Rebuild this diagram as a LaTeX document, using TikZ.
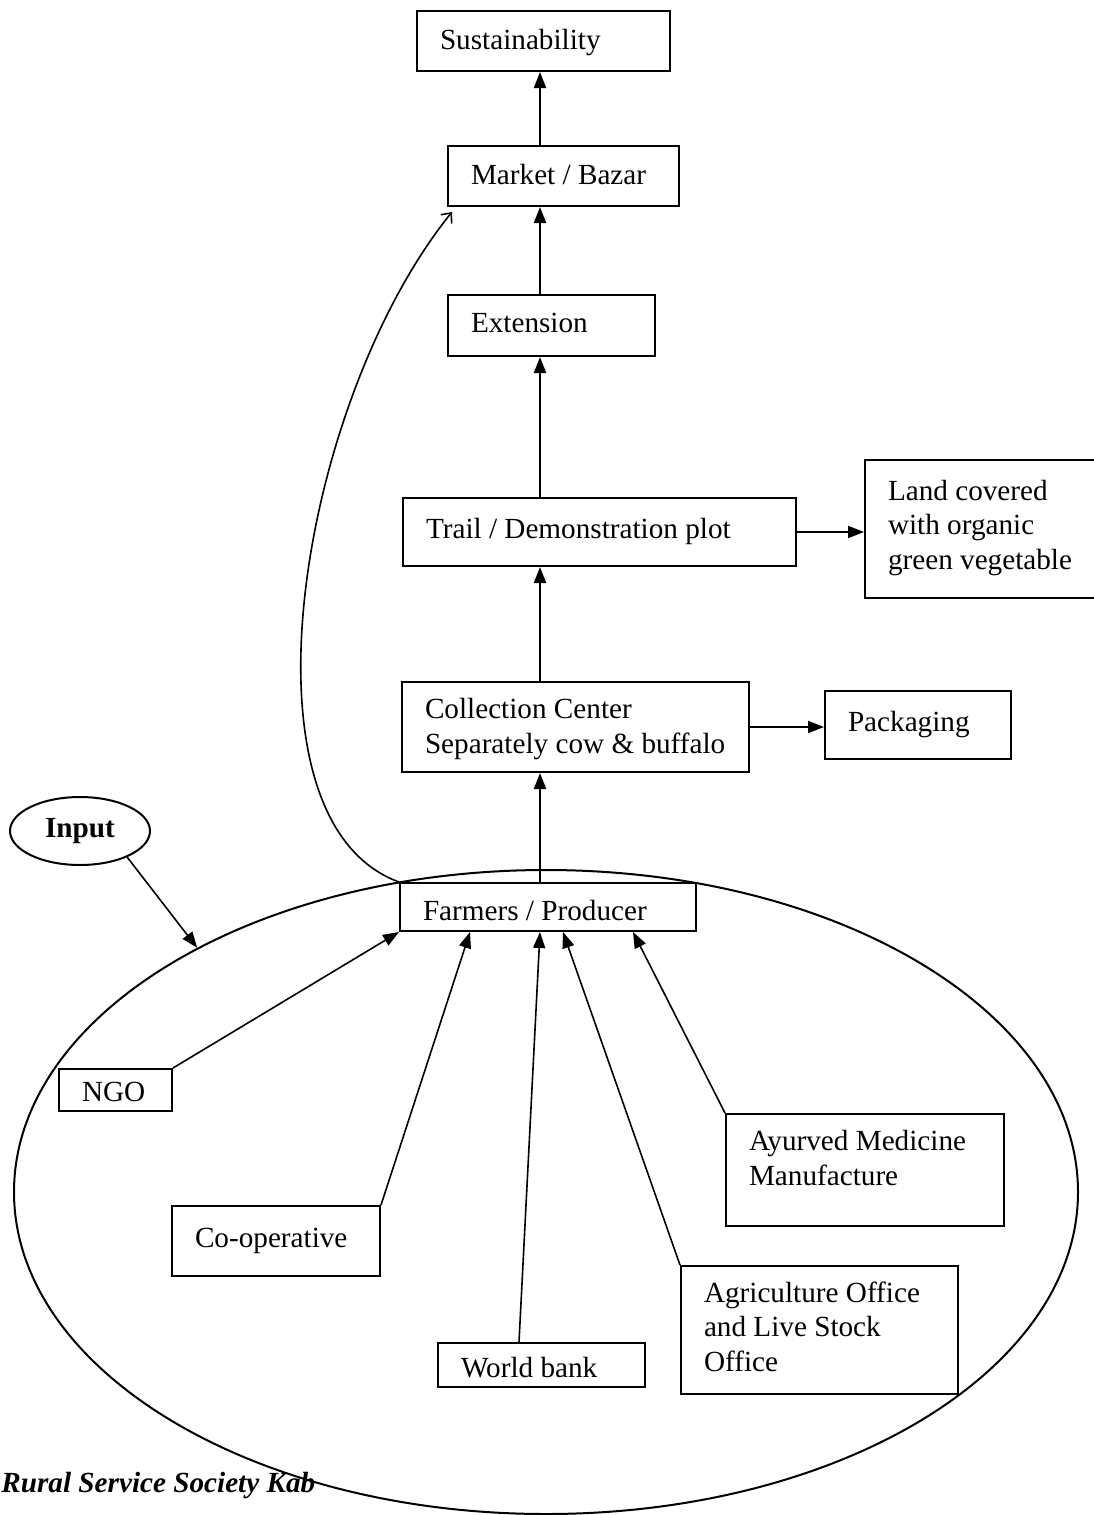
\documentclass[tikz,border=0pt]{standalone}
\usepackage{fontspec}
\setmainfont{Liberation Serif}
\usetikzlibrary{shapes.geometric,arrows.meta,calc}
\newcommand{\bt}[3][0pt]{\makebox[#2][l]{\hspace{11.5pt}\raisebox{#1}[\height][\depth]{\begin{tabular}{@{}l@{}}#3\end{tabular}}}}
\begin{document}
\begin{tikzpicture}[x=0.5pt,y=-0.5pt,
  every node/.style={font=\fontsize{14.6}{17.3}\selectfont},
  bx/.style={draw, fill=white, line width=1pt, rectangle, inner sep=0pt, anchor=north west},
  mainarrow/.style={line width=1pt, -{Triangle[length=8pt,width=6pt]}},
  thinarrow/.style={line width=0.8pt, -{Triangle[length=8pt,width=6pt]}},
  openarrow/.style={line width=0.8pt, -{Straight Barb[length=4pt,width=7pt]}}
]
\useasboundingbox (0,0) rectangle (1093,1515);

% footer text (partly covered by the ellipse)
\node[anchor=base west, inner sep=0pt, font=\fontsize{14.6}{17.3}\selectfont\bfseries\itshape] (rss) at (1,1492) {Rural Service Society Kab};

% big ellipse
\node[draw, ellipse, line width=1pt, inner sep=0pt, minimum width=532pt, minimum height=322pt] (big) at (546,1192) {};

% input ellipse
\node[draw, ellipse, line width=1pt, inner sep=0pt, minimum width=70pt, minimum height=34pt, font=\fontsize{14.6}{17.3}\selectfont\bfseries] (inp) at (80,831) {Input};

% boxes
\node[bx, minimum width=126.5pt, minimum height=30pt] (sus) at (416,10) {\bt[-1pt]{126.5pt}{Sustainability}};
\node[bx, minimum width=115.5pt, minimum height=30pt] (mkt) at (447,145) {\bt[-1pt]{115.5pt}{Market / Bazar}};
\node[bx, minimum width=103.5pt, minimum height=30.5pt] (ext) at (447,294) {\bt{103.5pt}{Extension}};
\node[bx, minimum width=196.5pt, minimum height=34pt] (trail) at (402,497) {\bt{196.5pt}{Trail / Demonstration plot}};
\node[bx, minimum width=120pt, minimum height=69pt] (land) at (864,459) {\bt[0.5pt]{120pt}{Land covered\\with organic\\green vegetable}};
\node[bx, minimum width=173.5pt, minimum height=45pt] (coll) at (401,681) {\bt[-1pt]{173.5pt}{Collection Center\\Separately cow \& buffalo}};
\node[bx, minimum width=93pt, minimum height=34pt] (pack) at (824,690) {\bt{93pt}{Packaging}};
\node[bx, minimum width=148pt, minimum height=24pt] (farm) at (399,882) {\bt[-3.5pt]{148pt}{Farmers / Producer}};
\node[bx, minimum width=56.5pt, minimum height=21pt] (ngo) at (58,1068) {\bt[-2.5pt]{56.5pt}{NGO}};
\node[bx, minimum width=104pt, minimum height=35pt] (coop) at (171,1205) {\bt{104pt}{Co-operative}};
\node[bx, minimum width=103.5pt, minimum height=22pt] (wb) at (437,1342) {\bt[-3pt]{103.5pt}{World bank}};
\node[bx, minimum width=138.5pt, minimum height=64pt] (agri) at (680,1265) {\bt{138.5pt}{Agriculture Office\\and Live Stock\\Office}};
\node[bx, minimum width=139pt, minimum height=56pt] (ayur) at (725,1113) {\bt[4.5pt]{139pt}{Ayurved Medicine\\Manufacture}};

% helper x positions
\coordinate (ax) at (540,0);
\coordinate (tcoop) at (470,0);
\coordinate (tagri) at (563,0);
\coordinate (tayur) at (633,0);
\coordinate (wbx) at (519,0);

% main vertical chain
\draw[mainarrow] (mkt.north -| ax) -- (sus.south -| ax);
\draw[mainarrow] (ext.north -| ax) -- (mkt.south -| ax);
\draw[mainarrow] (trail.north -| ax) -- (ext.south -| ax);
\draw[mainarrow] (coll.north -| ax) -- (trail.south -| ax);
\draw[mainarrow] (farm.north -| ax) -- (coll.south -| ax);

% side outputs
\draw[mainarrow] (trail.east) -- (trail.east -| land.west);
\draw[mainarrow] (coll.east) -- (coll.east -| pack.west);

% curved link farmers -> market
\draw[openarrow] (farm.north west) .. controls (230,820) and (300,400) .. ([shift={(5,5)}]mkt.south west);

% input arrow
\draw[thinarrow] (inp.-29) -- (big.145);

% contributors to farmers
\draw[thinarrow] (ngo.north east) -- (farm.south west);
\draw[thinarrow] (coop.north east) -- (farm.south -| tcoop);
\draw[thinarrow] (wb.north -| wbx) -- (farm.south -| ax);
\draw[thinarrow] (agri.north west) -- (farm.south -| tagri);
\draw[thinarrow] (ayur.north west) -- (farm.south -| tayur);
\end{tikzpicture}
\end{document}
